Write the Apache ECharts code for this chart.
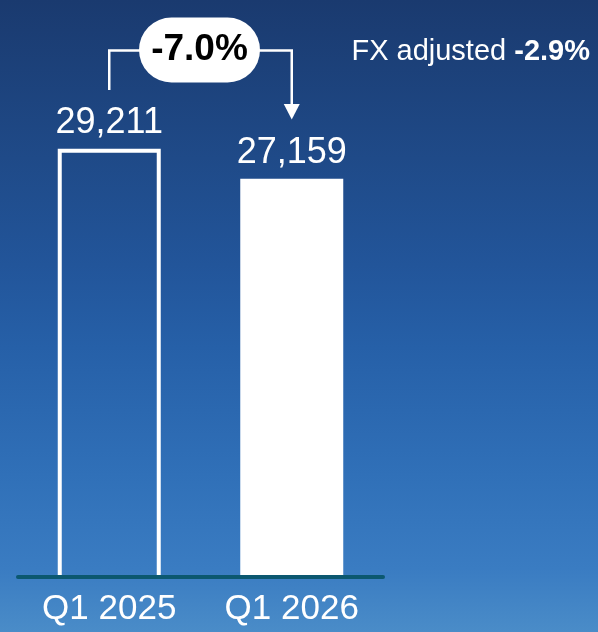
<!DOCTYPE html>
<html>
<head>
<meta charset="utf-8">
<script src="https://cdn.jsdelivr.net/npm/echarts@6/dist/echarts.min.js"></script>
<style>
  html, body { margin: 0; padding: 0; }
  #chart { width: 598px; height: 632px; background: linear-gradient(to bottom, #1a3a6f 0%, #1f4a88 25%, #22559a 42%, #2660a8 55%, #3070b8 75%, #3a7cc2 90%, #4a8cc8 100%); }
</style>
</head>
<body>
<div id="chart"></div>
<script>
const categories = ['Q1 2025', 'Q1 2026'];
const values = [29211, 27159];
const changeLabel = '-7.0%';
const fxLabel = 'FX adjusted ';
const fxValue = '-2.9%';

const FONT = '"Liberation Sans", Arial, sans-serif';
const chart = echarts.init(document.getElementById('chart'), null, { renderer: 'canvas' });

const fmt = v => v.toLocaleString('en-US');
const BAR_W = 103;

chart.setOption({
  backgroundColor: 'transparent',
  animation: false,
  grid: { left: 18, right: 215, top: 20, bottom: 55.5, containLabel: false },
  xAxis: {
    type: 'category',
    data: categories,
    z: 10,
    axisLine: { show: true, lineStyle: { color: '#0b5870', width: 4 } },
    axisTick: { show: false },
    axisLabel: { color: '#ffffff', fontSize: 35, fontFamily: FONT, margin: 15 }
  },
  yAxis: {
    type: 'value',
    min: 0,
    max: 38000,
    show: false,
    splitLine: { show: false }
  },
  series: [{
    type: 'bar',
    barWidth: BAR_W,
    data: values.map((v, i) => ({
      value: v,
      itemStyle: i === 0
        ? { color: 'rgba(0,0,0,0)', borderWidth: 0 }
        : { color: '#ffffff', borderWidth: 0 }
    })),
    label: {
      show: true,
      position: 'top',
      distance: 8,
      color: '#ffffff',
      fontSize: 36,
      fontFamily: FONT,
      formatter: p => fmt(p.value)
    }
  }, {
    // open outline (no bottom edge) for the prior-year bar
    type: 'custom',
    data: [[0, values[0]]],
    z: 3,
    renderItem: (params, api) => {
      const top = api.coord([api.value(0), api.value(1)]);
      const base = api.coord([api.value(0), 0]);
      const hw = (BAR_W - 4) / 2;
      return {
        type: 'polyline',
        shape: { points: [[top[0] - hw, base[1]], [top[0] - hw, top[1] + 2], [top[0] + hw, top[1] + 2], [top[0] + hw, base[1]]] },
        style: { stroke: '#ffffff', lineWidth: 4, fill: null, lineJoin: 'miter' }
      };
    }
  }]
});

function drawAnnotations() {
  const x1 = chart.convertToPixel({ xAxisIndex: 0 }, categories[0]);
  const x2 = chart.convertToPixel({ xAxisIndex: 0 }, categories[1]);
  const yLine = 50.5;
  const pillW = 121, pillH = 65;
  const pillCx = 199.5;
  chart.setOption({
    graphic: [
      { type: 'polyline', shape: { points: [[x1, 90], [x1, yLine], [pillCx, yLine]] },
        style: { stroke: '#ffffff', lineWidth: 2.5, fill: null }, z: 5 },
      { type: 'polyline', shape: { points: [[pillCx, yLine], [x2, yLine], [x2, 106]] },
        style: { stroke: '#ffffff', lineWidth: 2.5, fill: null }, z: 5 },
      { type: 'polygon', shape: { points: [[x2 - 8, 104], [x2 + 8, 104], [x2, 119.5]] },
        style: { fill: '#ffffff' }, z: 5 },
      { type: 'rect', shape: { x: pillCx - pillW / 2, y: yLine - pillH / 2 - 0.5, width: pillW, height: pillH, r: pillH / 2 },
        style: { fill: '#ffffff' }, z: 6 },
      { type: 'text', x: pillCx, y: 49.5, z: 7,
        style: { text: changeLabel, fill: '#000000', font: 'bold 37px ' + FONT, align: 'center', verticalAlign: 'middle' } },
      { type: 'text', x: 590, y: 52, z: 7,
        style: {
          text: '{a|' + fxLabel + '}{b|' + fxValue + '}',
          align: 'right', verticalAlign: 'middle',
          rich: {
            a: { fill: '#ffffff', fontSize: 29, fontFamily: FONT },
            b: { fill: '#ffffff', fontSize: 29, fontFamily: FONT, fontWeight: 'bold' }
          }
        } }
    ]
  });
}
drawAnnotations();
</script>
</body>
</html>
